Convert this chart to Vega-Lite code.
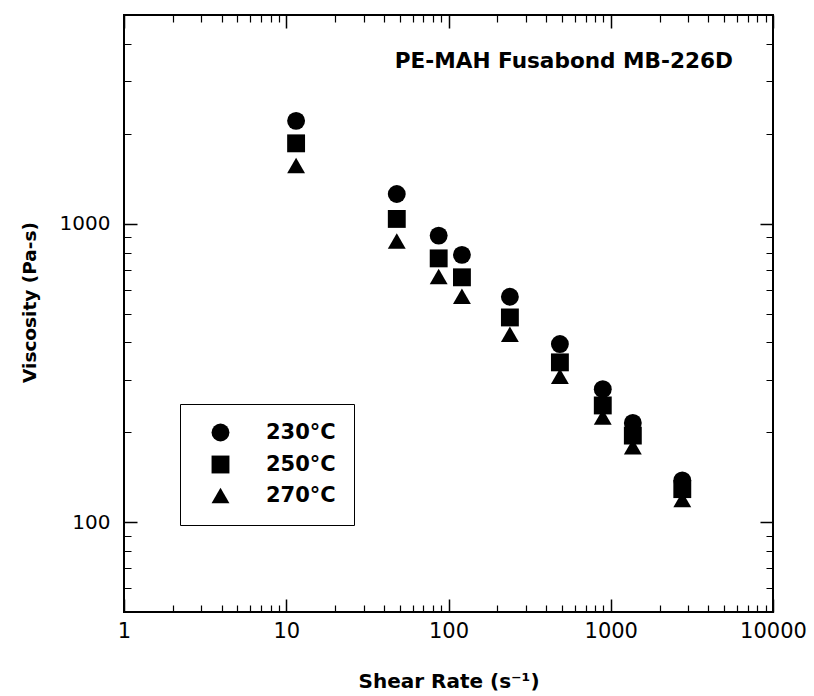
{
  "$schema": "https://vega.github.io/schema/vega-lite/v6.json",
  "width": 649,
  "height": 597,
  "autosize": {"type": "none"},
  "padding": {"left": 124, "top": 15, "right": 41, "bottom": 84},
  "background": "white",
  "config": {
    "view": {"stroke": "black", "strokeWidth": 2},
    "font": "DejaVu Sans"
  },
  "title": {
    "text": "PE-MAH Fusabond MB-226D",
    "anchor": "end",
    "frame": "group",
    "orient": "top",
    "offset": -75,
    "dx": -40,
    "baseline": "alphabetic",
    "fontSize": 21.6,
    "fontWeight": "bold",
    "color": "black",
    "font": "DejaVu Sans"
  },
  "data": {
    "values": [
      {"rate": 11.5, "visc": 2210, "temp": "230°C"},
      {"rate": 48, "visc": 1257, "temp": "230°C"},
      {"rate": 87, "visc": 912, "temp": "230°C"},
      {"rate": 121, "visc": 786, "temp": "230°C"},
      {"rate": 239, "visc": 569, "temp": "230°C"},
      {"rate": 486, "visc": 395, "temp": "230°C"},
      {"rate": 893, "visc": 279, "temp": "230°C"},
      {"rate": 1368, "visc": 215, "temp": "230°C"},
      {"rate": 2760, "visc": 138, "temp": "230°C"},
      {"rate": 11.5, "visc": 1858, "temp": "250°C"},
      {"rate": 48, "visc": 1037, "temp": "250°C"},
      {"rate": 87, "visc": 765, "temp": "250°C"},
      {"rate": 121, "visc": 661, "temp": "250°C"},
      {"rate": 239, "visc": 485, "temp": "250°C"},
      {"rate": 486, "visc": 343, "temp": "250°C"},
      {"rate": 893, "visc": 246, "temp": "250°C"},
      {"rate": 1368, "visc": 195, "temp": "250°C"},
      {"rate": 2760, "visc": 129, "temp": "250°C"},
      {"rate": 11.5, "visc": 1567, "temp": "270°C"},
      {"rate": 48, "visc": 875, "temp": "270°C"},
      {"rate": 87, "visc": 665, "temp": "270°C"},
      {"rate": 121, "visc": 571, "temp": "270°C"},
      {"rate": 239, "visc": 426, "temp": "270°C"},
      {"rate": 486, "visc": 308, "temp": "270°C"},
      {"rate": 893, "visc": 225, "temp": "270°C"},
      {"rate": 1368, "visc": 179, "temp": "270°C"},
      {"rate": 2760, "visc": 119, "temp": "270°C"}
    ]
  },
  "layer": [
    {
      "mark": {"type": "point", "filled": true, "opacity": 1, "size": 320, "color": "black"},
      "encoding": {
        "x": {
          "field": "rate",
          "type": "quantitative",
          "scale": {"type": "log", "domain": [1, 10000], "nice": false},
          "axis": {
            "orient": "bottom",
            "values": [1, 10, 100, 1000, 10000],
            "format": "d",
            "ticks": false,
            "domain": false,
            "grid": true,
            "gridColor": "black",
            "gridOpacity": 1,
            "gridWidth": 1.5,
            "gridDash": [13, 571, 13],
            "labelFont": "DejaVu Sans",
            "labelFontSize": 21,
            "labelColor": "black",
            "labelPadding": 8,
            "labelFlush": false,
            "title": "Shear Rate (s⁻¹)",
            "titleFont": "DejaVu Sans",
            "titleFontSize": 20,
            "titleFontWeight": "bold",
            "titleColor": "black",
            "titlePadding": 30
          }
        },
        "y": {
          "field": "visc",
          "type": "quantitative",
          "scale": {"type": "log", "domain": [50, 5000], "nice": false},
          "axis": {
            "orient": "left",
            "values": [100, 1000],
            "format": "d",
            "ticks": false,
            "domain": false,
            "grid": true,
            "gridColor": "black",
            "gridOpacity": 1,
            "gridWidth": 1.5,
            "gridDash": [13, 623, 13],
            "labelFont": "DejaVu Sans",
            "labelFontSize": 20,
            "labelColor": "black",
            "labelPadding": 14,
            "labelFlush": false,
            "title": "Viscosity (Pa-s)",
            "titleFont": "DejaVu Sans",
            "titleFontSize": 18.5,
            "titleFontWeight": "bold",
            "titleColor": "black",
            "titlePadding": 20,
            "titleY": 287
          }
        },
        "shape": {
          "field": "temp",
          "type": "nominal",
          "scale": {"domain": ["230°C", "250°C", "270°C"], "range": ["circle", "square", "triangle-up"]},
          "legend": {
            "orient": "none",
            "legendX": 56,
            "legendY": 389,
            "title": null,
            "strokeColor": "black",
            "padding": 18,
            "symbolOffset": 12,
            "symbolSize": 320,
            "symbolFillColor": "black",
            "symbolStrokeColor": "black",
            "labelFont": "DejaVu Sans",
            "labelFontSize": 21,
            "labelFontWeight": "bold",
            "labelColor": "black",
            "labelOffset": 35,
            "rowPadding": 7
          }
        }
      }
    },
    {
      "mark": {"type": "point", "opacity": 0},
      "encoding": {
        "x": {
          "field": "rate",
          "type": "quantitative",
          "axis": {
            "orient": "top",
            "values": [2, 3, 4, 5, 6, 7, 8, 9, 20, 30, 40, 50, 60, 70, 80, 90, 200, 300, 400, 500, 600, 700, 800, 900, 2000, 3000, 4000, 5000, 6000, 7000, 8000, 9000],
            "labels": false,
            "ticks": false,
            "domain": false,
            "grid": true,
            "gridColor": "black",
            "gridOpacity": 1,
            "gridWidth": 1.2,
            "gridDash": [7, 583, 7],
            "title": null
          }
        },
        "y": {
          "field": "visc",
          "type": "quantitative",
          "axis": {
            "orient": "right",
            "values": [60, 70, 80, 90, 200, 300, 400, 500, 600, 700, 800, 900, 2000, 3000, 4000],
            "labels": false,
            "ticks": false,
            "domain": false,
            "grid": true,
            "gridColor": "black",
            "gridOpacity": 1,
            "gridWidth": 1.2,
            "gridDash": [7, 635, 7],
            "title": null
          }
        }
      }
    }
  ],
  "resolve": {"axis": {"x": "independent", "y": "independent"}}
}
